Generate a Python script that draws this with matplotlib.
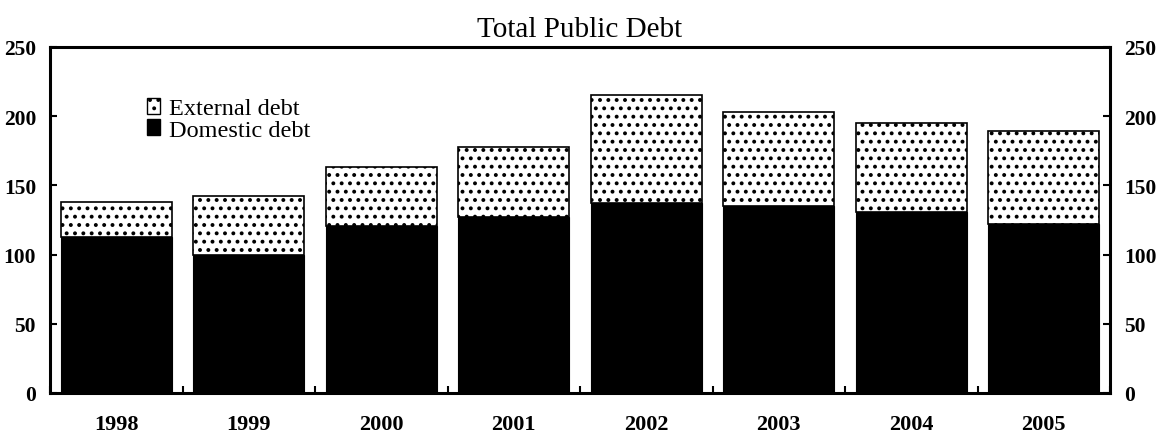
import numpy as np
import matplotlib
matplotlib.use('Agg')
import matplotlib.pyplot as plt
from matplotlib.patches import Patch
from matplotlib.ticker import MultipleLocator

# data
years = ['1998', '1999', '2000', '2001', '2002', '2003', '2004', '2005']
domestic = [113, 100, 121, 127, 137, 135, 131, 122]
total = [138, 142, 163, 178, 215, 203, 195, 189]
external = [t - d for t, d in zip(total, domestic)]

plt.rcParams['font.family'] = ['Liberation Serif', 'DejaVu Serif']
plt.rcParams['hatch.linewidth'] = 1.6
plt.rcParams['hatch.color'] = 'black'

fig = plt.figure(figsize=(11.68, 4.39), dpi=100)
ax = fig.add_axes([50 / 1168, 1 - 394 / 439, 1060 / 1168, 346 / 439])

x = np.arange(len(years))
ax.bar(x, domestic, width=0.84, color='black', edgecolor='black', linewidth=0.8, zorder=2)
ax.bar(x, external, width=0.84, bottom=domestic, color='white', edgecolor='black',
       linewidth=1.2, hatch='..', zorder=2)

ax.set_xlim(-0.5, len(years) - 0.5)
ax.set_ylim(0, 250)
ax.set_yticks(np.arange(0, 251, 50))
ax.set_xticks(x)
ax.set_xticklabels(years)
ax.xaxis.set_minor_locator(MultipleLocator(1, offset=0.5))

for s in ax.spines.values():
    s.set_linewidth(2.2)

ax.tick_params(axis='y', which='both', direction='in', length=5, width=1.5,
               left=True, right=True, labelleft=True, labelright=True, pad=10,
               labelsize=15.5)
ax.tick_params(axis='x', which='major', length=0, pad=15, labelsize=16)
ax.tick_params(axis='x', which='minor', direction='in', length=5, width=1.5)
for lab in ax.get_xticklabels() + ax.get_yticklabels():
    lab.set_fontweight('bold')
for t in ax.yaxis.get_major_ticks():
    t.label2.set_fontweight('bold')

ax.set_title('Total Public Debt', fontsize=21, pad=8)

handles = [Patch(facecolor='white', edgecolor='black', hatch='..', linewidth=1.0, label='External debt'),
           Patch(facecolor='black', edgecolor='black', label='Domestic debt')]
ax.legend(handles=handles, loc='upper left', bbox_to_anchor=(0.0915, 0.854), frameon=False,
          fontsize=17.5, handlelength=0.55, handleheight=0.65, handletextpad=0.35,
          labelspacing=0.0, borderpad=0, borderaxespad=0)

fig.savefig('out.png', dpi=100)
